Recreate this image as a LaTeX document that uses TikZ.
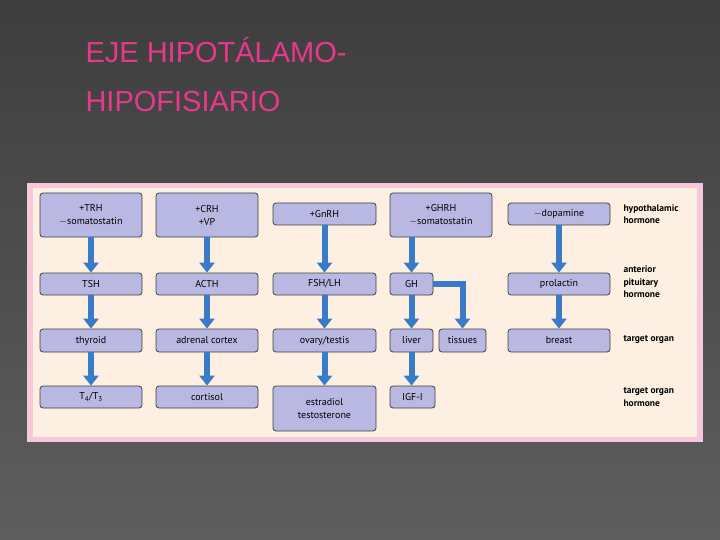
\documentclass[tikz,border=0pt]{standalone}
\usepackage{fontspec}
\setmainfont{Liberation Sans}
\newfontfamily\boxfont{PT Sans}
\usetikzlibrary{arrows.meta}
\definecolor{bgtop}{HTML}{3E3E3E}
\definecolor{bgbottom}{HTML}{5E5E5E}
\definecolor{titlepink}{HTML}{E8388C}
\definecolor{framepink}{HTML}{F7C8DC}
\definecolor{panelcream}{HTML}{FDF0E2}
\definecolor{boxlav}{HTML}{B9B8E2}
\definecolor{flowblue}{HTML}{3A7BC8}
\tikzset{
    organ/.style={draw=black!75, fill=boxlav, rounded corners=3pt, thick,
        inner sep=0pt, align=center, font=\boxfont\fontsize{10}{13}\selectfont},
    flow/.style={flowblue, line width=6pt,
        -{Triangle[width=15pt,length=10pt]}},
    side/.style={anchor=west, align=left, font=\boxfont\bfseries\fontsize{9.5}{12.5}\selectfont}
}
\begin{document}
\begin{tikzpicture}[x=1pt,y=-1pt]
        \useasboundingbox (0,0) rectangle (720,540);
        \shade[top color=bgtop, bottom color=bgbottom] (0,0) rectangle (720,540);

        % title
        \node[anchor=west, titlepink, font=\fontsize{29}{34}\selectfont] (t1) at (82,50) {EJE HIPOTÁLAMO-};
        \node[anchor=west, titlepink, font=\fontsize{29}{34}\selectfont] (t2) at (82,102) {HIPOFISIARIO};

        % panel
        \fill[framepink] (27,183) rectangle (703,442);
        \fill[panelcream] (33,188) rectangle (697,437);

        % boxes: \organbox{name}{x1}{y1}{x2}{y2}{text}
        \newcommand\organbox[6]{
            \node[organ, minimum width=#4-#2, minimum height=#5-#3] (#1) at ({(#2+#4)/2},{(#3+#5)/2}) {#6};
        }
        \organbox{trh}{40}{193}{142}{237}{+TRH\\$-$somatostatin}
        \organbox{tsh}{40}{273}{142}{295}{TSH}
        \organbox{thy}{40}{329}{142}{352}{thyroid}
        \organbox{tt}{40}{386}{142}{408}{T\textsubscript{4}/T\textsubscript{3}}

        \organbox{crh}{156}{193}{258}{237}{+CRH\\+VP}
        \organbox{acth}{156}{273}{258}{295}{ACTH}
        \organbox{adr}{156}{329}{258}{352}{adrenal cortex}
        \organbox{cor}{156}{386}{258}{408}{cortisol}

        \organbox{gnrh}{273}{203}{376}{225}{+GnRH}
        \organbox{fsh}{273}{273}{376}{295}{FSH/LH}
        \organbox{ova}{273}{329}{376}{352}{ovary/testis}
        \organbox{est}{273}{386}{376}{431}{estradiol\\testosterone}

        \organbox{ghrh}{390}{193}{492}{237}{+GHRH\\$-$somatostatin}
        \organbox{gh}{390}{273}{433}{295}{GH}
        \organbox{liv}{390}{329}{433}{352}{liver}
        \organbox{tis}{439}{329}{486}{352}{tissues}
        \organbox{igf}{390}{386}{435}{408}{IGF-I}

        \organbox{dop}{508}{203}{610}{225}{$-$dopamine}
        \organbox{prl}{508}{273}{610}{295}{prolactin}
        \organbox{bre}{508}{329}{610}{352}{breast}

        % arrows
        \foreach \a/\b in {trh/tsh, tsh/thy, thy/tt, crh/acth, acth/adr, adr/cor,
                           gnrh/fsh, fsh/ova, ova/est, dop/prl, prl/bre} {
            \draw[flow] (\a.south) -- (\b.north);
        }
        \draw[flow] (ghrh.south -| gh.north) -- (gh.north);
        \draw[flow] (gh.south -| liv.north) -- (liv.north);
        \draw[flow] (liv.south) -- (liv.south |- igf.north);
        \draw[flow] (gh.east) -| (tis.north);

        % row labels
        \node[side] (l1) at (620,214) {hypothalamic\\hormone};
        \node[side] (l2) at (620,282) {anterior\\pituitary\\hormone};
        \node[side] (l3) at (620,340) {target organ};
        \node[side] (l4) at (620,397) {target organ\\hormone};
    \end{tikzpicture}
\end{document}
